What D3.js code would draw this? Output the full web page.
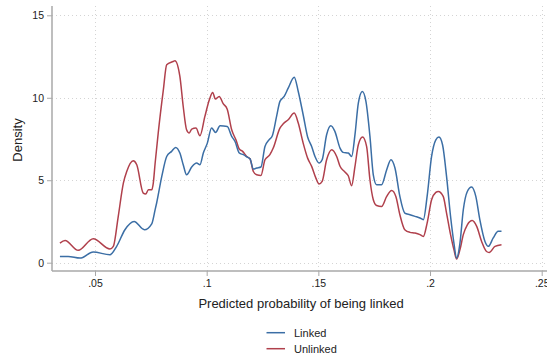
<!DOCTYPE html>
<html><head><meta charset="utf-8">
<script src="https://cdn.jsdelivr.net/npm/d3@7"></script>
<style>html,body{margin:0;padding:0;background:#fff;}svg{display:block;font-family:Arial,"Liberation Sans",sans-serif;}</style>
</head><body><div id="chart"></div>
<script>
const xTicks = [0.05, 0.1, 0.15, 0.2, 0.25];
const xTickLabels = [".05", ".1", ".15", ".2", ".25"];
const yTicks = [0, 5, 10, 15];
const yTickLabels = ["0", "5", "10", "15"];
const seriesNames = ["Linked", "Unlinked"];

const linkedX = [0.0343,0.0380,0.0433,0.0492,0.0567,0.0597,0.0634,0.0675,0.0721,0.0754,0.0769,0.0776,0.0799,0.0821,0.0843,0.0861,0.0880,0.0895,0.0910,0.0933,0.0955,0.0970,0.0985,0.1003,0.1022,0.1040,0.1060,0.1092,0.1112,0.1127,0.1146,0.1164,0.1182,0.1194,0.1209,0.1224,0.1243,0.1261,0.1279,0.1294,0.1313,0.1328,0.1347,0.1365,0.1392,0.1410,0.1432,0.1452,0.1470,0.1485,0.1503,0.1517,0.1537,0.1556,0.1574,0.1597,0.1611,0.1634,0.1649,0.1664,0.1679,0.1697,0.1713,0.1731,0.1746,0.1761,0.1783,0.1806,0.1825,0.1843,0.1865,0.1887,0.1910,0.1933,0.1955,0.1970,0.1987,0.2007,0.2026,0.2040,0.2056,0.2074,0.2092,0.2107,0.2119,0.2134,0.2149,0.2167,0.2186,0.2205,0.2223,0.2246,0.2261,0.2283,0.2305,0.2320];
const linkedY = [0.38,0.38,0.28,0.65,0.48,0.99,2.0,2.5,2.0,2.36,3.2,3.62,5.23,6.44,6.75,6.99,6.65,5.94,5.33,5.8,6.04,5.94,6.65,7.25,8.16,7.9,8.3,8.26,7.66,7.35,6.65,6.55,6.4,6.3,5.68,5.74,5.8,7.05,7.45,7.7,8.87,9.78,10.08,10.58,11.25,10.38,8.97,7.62,7.05,6.44,6.04,6.24,7.76,8.3,7.96,6.95,6.69,6.65,6.44,7.76,9.68,10.38,9.78,7.66,5.33,4.73,4.73,5.64,6.24,5.74,4.02,3.01,2.91,2.81,2.71,2.61,4.02,6.44,7.45,7.62,7.15,5.23,2.8,1.19,0.28,1.19,3.21,4.32,4.59,4.02,2.61,1.29,0.99,1.5,1.9,1.9];

const unlinkedX = [0.0343,0.0366,0.0425,0.0492,0.0567,0.0582,0.0604,0.0627,0.0642,0.0671,0.0687,0.0716,0.0727,0.0739,0.0754,0.0761,0.0769,0.0783,0.0806,0.0821,0.0850,0.0858,0.0880,0.0895,0.0910,0.0922,0.0933,0.0952,0.0970,0.0992,0.1012,0.1027,0.1039,0.1056,0.1074,0.1092,0.1112,0.1131,0.1146,0.1161,0.1179,0.1194,0.1209,0.1224,0.1243,0.1261,0.1283,0.1298,0.1328,0.1343,0.1365,0.1392,0.1410,0.1432,0.1452,0.1470,0.1489,0.1503,0.1517,0.1537,0.1560,0.1582,0.1597,0.1619,0.1634,0.1649,0.1664,0.1679,0.1698,0.1716,0.1731,0.1746,0.1761,0.1783,0.1806,0.1828,0.1847,0.1865,0.1887,0.1910,0.1933,0.1955,0.1970,0.1987,0.2007,0.2026,0.2037,0.2059,0.2074,0.2092,0.2107,0.2119,0.2134,0.2149,0.2167,0.2189,0.2209,0.2231,0.2253,0.2265,0.2291,0.2320];
const unlinkedY = [1.19,1.35,0.75,1.45,0.83,0.99,2.8,4.83,5.53,6.18,5.94,4.22,4.16,4.42,4.42,4.83,6.0,7.86,10.48,12.0,12.2,12.25,11.3,9.47,8.06,7.86,8.1,8.16,7.7,8.87,9.88,10.32,9.92,10.08,9.64,9.31,8.06,7.45,6.89,6.75,6.44,6.3,5.53,5.33,5.29,6.24,6.55,6.95,8.16,8.42,8.67,9.07,8.47,7.25,6.34,5.84,5.13,4.77,4.93,6.24,6.85,6.44,5.85,5.5,5.27,4.67,5.84,7.15,7.62,7.05,5.03,3.82,3.47,3.41,4.02,4.38,4.02,2.91,2.0,1.84,1.8,1.7,1.59,2.4,3.82,4.26,4.32,4.02,3.01,1.7,0.79,0.22,0.79,1.7,2.3,2.56,2.2,1.29,0.68,0.62,0.99,1.09];

const colors = ["#3b6ea5", "#b0404c"];
const W = 547, H = 358;
const svg = d3.select("#chart").append("svg").attr("width", W).attr("height", H);

const x = d3.scaleLinear().domain([0.05, 0.25]).range([95, 541.7]);
const y = d3.scaleLinear().domain([0, 15]).range([262.7, 15.3]);
const plotLeft = 52, plotBottom = 271, plotTop = 6, plotRight = 547;

// gridlines
const grid = svg.append("g").attr("stroke", "#d4d4d4").attr("stroke-width", 1).attr("stroke-dasharray", "1,3");
grid.selectAll("line.gy").data(yTicks).join("line")
  .attr("x1", plotLeft).attr("x2", plotRight)
  .attr("y1", d => Math.round(y(d)) + 0.5).attr("y2", d => Math.round(y(d)) + 0.5);
grid.selectAll("line.gx").data(xTicks).join("line")
  .attr("y1", plotTop).attr("y2", plotBottom)
  .attr("x1", d => Math.round(x(d)) + 0.5).attr("x2", d => Math.round(x(d)) + 0.5);

// axes
const axisColor = "#a8a8a8";
const xAxis = d3.axisBottom(x).tickValues(xTicks).tickFormat((d, i) => xTickLabels[i]).tickSize(5).tickSizeOuter(0).tickPadding(4);
const gx = svg.append("g").attr("transform", `translate(0,${plotBottom})`).call(xAxis);
gx.select(".domain").remove();
gx.selectAll(".tick line").attr("stroke", axisColor);
gx.selectAll(".tick text").attr("fill", "#222").attr("font-size", 10.5).attr("font-family", "Arial, 'Liberation Sans', sans-serif");

const yAxis = d3.axisLeft(y).tickValues(yTicks).tickFormat((d, i) => yTickLabels[i]).tickSize(5).tickSizeOuter(0).tickPadding(3);
const gy = svg.append("g").attr("transform", `translate(${plotLeft},0)`).call(yAxis);
gy.select(".domain").remove();
gy.selectAll(".tick line").attr("stroke", axisColor);
gy.selectAll(".tick text").attr("fill", "#222").attr("font-size", 10.5).attr("font-family", "Arial, 'Liberation Sans', sans-serif");

svg.append("line").attr("x1", plotLeft).attr("x2", plotLeft).attr("y1", plotTop).attr("y2", plotBottom)
  .attr("stroke", axisColor).attr("stroke-width", 1.5);
svg.append("line").attr("x1", plotLeft).attr("x2", plotRight).attr("y1", plotBottom).attr("y2", plotBottom)
  .attr("stroke", axisColor).attr("stroke-width", 1.5);

// series
const line = d3.line().x(d => x(d[0])).y(d => y(d[1])).curve(d3.curveMonotoneX);
const series = [d3.zip(linkedX, linkedY), d3.zip(unlinkedX, unlinkedY)];
[1, 0].forEach(i => {
  svg.append("path").datum(series[i]).attr("d", line)
    .attr("fill", "none").attr("stroke", colors[i]).attr("stroke-width", 1.5)
    .attr("stroke-linejoin", "round");
});

// titles
svg.append("text").attr("x", 301).attr("y", 307.5).attr("text-anchor", "middle")
  .attr("font-size", 13).attr("fill", "#222").text("Predicted probability of being linked");
svg.append("text").attr("transform", "translate(21.5,140) rotate(-90)").attr("text-anchor", "middle")
  .attr("font-size", 13).attr("fill", "#222").text("Density");

// legend
const leg = svg.append("g");
seriesNames.forEach((n, i) => {
  const cy = 332.7 + i * 16;
  leg.append("line").attr("x1", 266.5).attr("x2", 285).attr("y1", cy).attr("y2", cy)
    .attr("stroke", colors[i]).attr("stroke-width", 1.5);
  leg.append("text").attr("x", 294).attr("y", cy + 3.8).attr("font-size", 11).attr("fill", "#222").text(n);
});
</script></body></html>
